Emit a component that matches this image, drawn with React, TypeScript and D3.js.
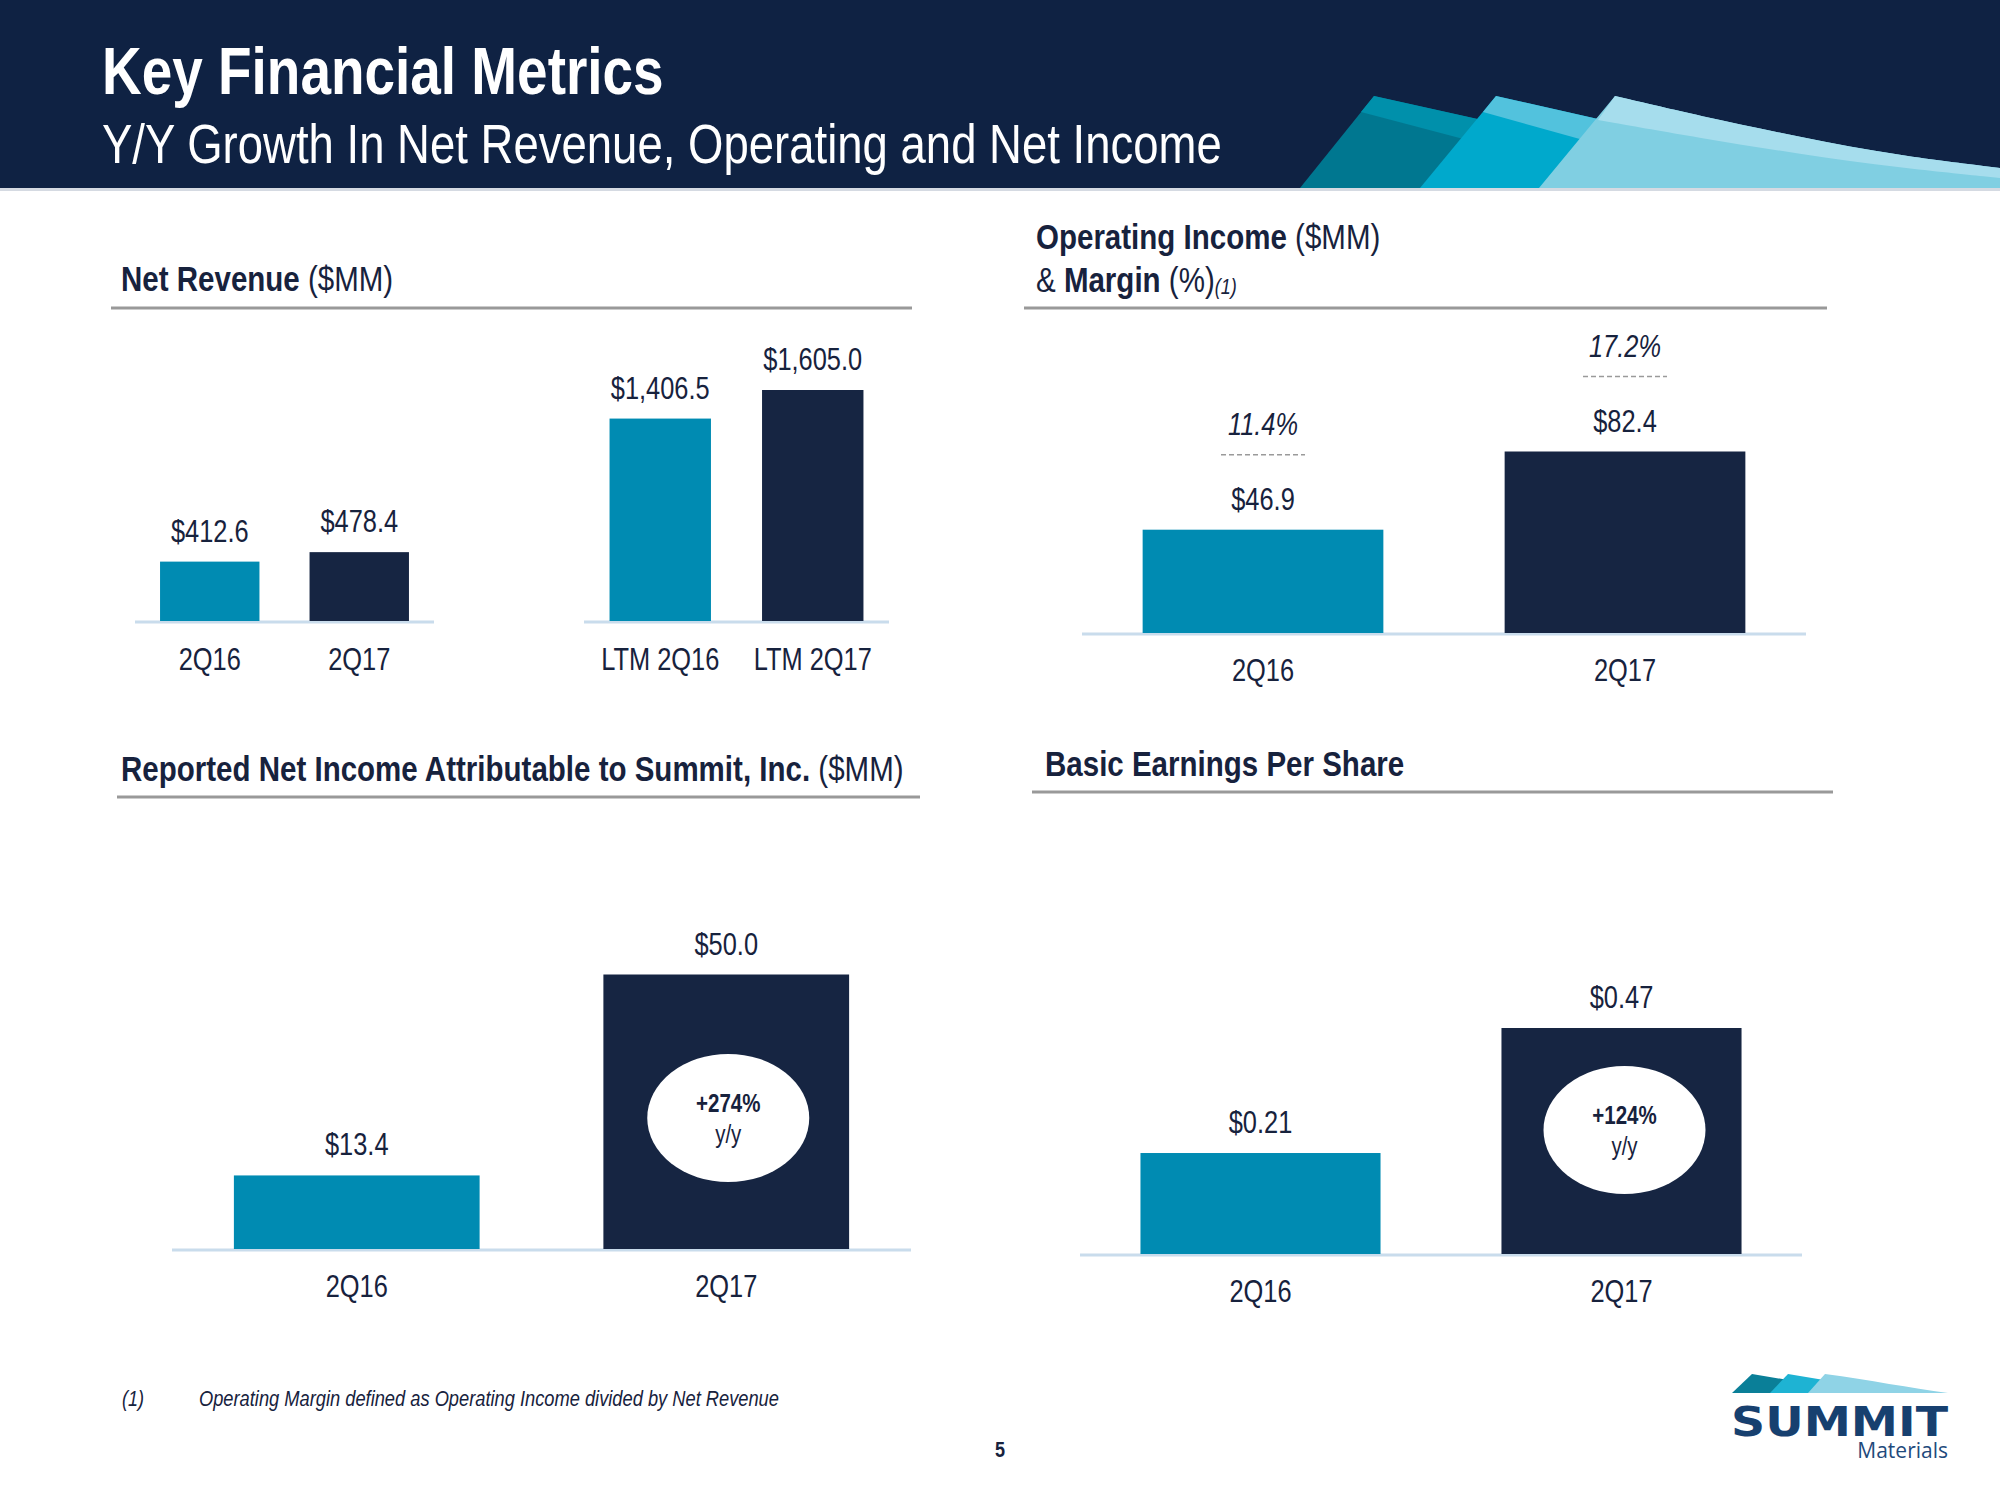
import React from "react";
import * as d3 from "d3";

// ---- Data ----
const nrQuarterCats = ["2Q16", "2Q17"];
const nrQuarterVals = [412.6, 478.4];
const nrLtmCats = ["LTM 2Q16", "LTM 2Q17"];
const nrLtmVals = [1406.5, 1605.0];
const nrLabels = ["$412.6", "$478.4", "$1,406.5", "$1,605.0"];

const oiCats = ["2Q16", "2Q17"];
const oiVals = [46.9, 82.4];
const oiLabels = ["$46.9", "$82.4"];
const oiMargins = ["11.4%", "17.2%"];

const niCats = ["2Q16", "2Q17"];
const niVals = [13.4, 50.0];
const niLabels = ["$13.4", "$50.0"];
const niGrowth = "+274%";

const epsCats = ["2Q16", "2Q17"];
const epsVals = [0.21, 0.47];
const epsLabels = ["$0.21", "$0.47"];
const epsGrowth = "+124%";

const barColors = ["#008bb2", "#162542"];

const FONT = "'Liberation Sans', Arial, sans-serif";
const TXT = "#17223d";
const NARROW = 0.82;

// Text drawn in a horizontally condensed form (Arial Narrow look)
function NText({ x, y, children, ...rest }: any) {
  return (
    <text transform={`translate(${x},${y}) scale(${NARROW},1)`} x={0} y={0} fontFamily={FONT} {...rest}>
      {children}
    </text>
  );
}

type BarSpec = {
  cats: string[];
  vals: number[];
  labels: string[];
  x0: number;
  x1: number;
  base: number;
  yMax: number;
  top: number;
  catY: number;
};

function BarGroup({ s, extra }: { s: BarSpec; extra?: (d: { x: number; w: number; y: number; i: number }) => React.ReactNode }) {
  const x = d3.scaleBand<string>().domain(s.cats).range([s.x0, s.x1]).paddingInner(0.335).paddingOuter(0.1675);
  const y = d3.scaleLinear().domain([0, s.yMax]).range([s.base, s.top]);
  return (
    <g>
      <line x1={s.x0} x2={s.x1} y1={s.base + 1} y2={s.base + 1} stroke="#c9dcec" strokeWidth={3} />
      {s.cats.map((c, i) => {
        const bx = x(c)!;
        const w = x.bandwidth();
        const by = y(s.vals[i]);
        return (
          <g key={c}>
            <rect x={bx} y={by} width={w} height={s.base - by} fill={barColors[i]} />
            <NText x={bx + w / 2} y={by - 20} textAnchor="middle" fontSize={31} fill={TXT}>
              {s.labels[i]}
            </NText>
            <NText x={bx + w / 2} y={s.catY} textAnchor="middle" fontSize={31} fill={TXT}>
              {c}
            </NText>
            {extra ? extra({ x: bx, w, y: by, i }) : null}
          </g>
        );
      })}
    </g>
  );
}

function Growth({ cx, cy, label }: { cx: number; cy: number; label: string }) {
  return (
    <g>
      <ellipse cx={cx} cy={cy} rx={81} ry={64} fill="#ffffff" />
      <NText x={cx} y={cy - 6} textAnchor="middle" fontSize={25} fontWeight="bold" fill={TXT}>
        {label}
      </NText>
      <NText x={cx} y={cy + 25} textAnchor="middle" fontSize={25} fill={TXT}>
        y/y
      </NText>
    </g>
  );
}

export default function App() {
  const nr1: BarSpec = { cats: nrQuarterCats, vals: nrQuarterVals, labels: nrLabels.slice(0, 2), x0: 135, x1: 434, base: 621, yMax: 1605, top: 390, catY: 670 };
  const nr2: BarSpec = { cats: nrLtmCats, vals: nrLtmVals, labels: nrLabels.slice(2), x0: 584, x1: 889, base: 621, yMax: 1605, top: 390, catY: 670 };
  const oi: BarSpec = { cats: oiCats, vals: oiVals, labels: oiLabels, x0: 1082, x1: 1806, base: 633, yMax: 82.4, top: 451.5, catY: 681 };
  const ni: BarSpec = { cats: niCats, vals: niVals, labels: niLabels, x0: 172, x1: 911, base: 1249, yMax: 50, top: 974.5, catY: 1297 };
  const eps: BarSpec = { cats: epsCats, vals: epsVals, labels: epsLabels, x0: 1080, x1: 1802, base: 1254, yMax: 0.47, top: 1028, catY: 1302 };

  // header decoration paths
  const line = d3.line().curve(d3.curveBasis);
  const cTop: [number, number][] = [[1615, 96], [1700, 116], [1800, 137], [1900, 156], [2000, 168]];
  const cStrip: [number, number][] = [[1598, 120], [1700, 138], [1800, 154], [1900, 168], [2000, 178]];

  return (
    <svg width={2000} height={1500} style={{ position: "absolute", left: 0, top: 0, display: "block" }} fontFamily={FONT}>
      <rect x={0} y={0} width={2000} height={1500} fill="#ffffff" />
      {/* header */}
      <rect x={0} y={0} width={2000} height={188} fill="#0f2243" />
      <rect x={0} y={188} width={2000} height={3} fill="#d5dae2" />
      {/* decoration A */}
      <path d="M1300,188 L1374,96 L1500,124 L1430,188 Z" fill="#007790" />
      <path d="M1361,112 L1374,96 L1500,124 L1490,146 Z" fill="#0090ab" />
      {/* decoration B */}
      <path d="M1420,188 L1496,96 L1620,124 L1545,188 Z" fill="#00a9cc" />
      <path d="M1483,112 L1496,96 L1620,124 L1605,146 Z" fill="#52c2dd" />
      {/* decoration C */}
      <path d={"M1539,188 L" + line(cTop)!.slice(1) + " L2000,188 Z"} fill="#80cfe2" />
      <path d={"M1598,120 L" + line(cTop)!.slice(1) + " L" + line(cStrip.slice().reverse())!.slice(1) + " Z"} fill="#a6dded" />
      <NText x={102} y={94} fontSize={67} fontWeight="bold" fill="#ffffff">
        Key Financial Metrics
      </NText>
      <NText x={102} y={163} fontSize={55.5} fill="#ffffff">
        Y/Y Growth In Net Revenue, Operating and Net Income
      </NText>

      {/* Net Revenue */}
      <NText x={121} y={291} fontSize={36} fill={TXT}>
        <tspan fontWeight="bold">Net Revenue </tspan>
        <tspan>($MM)</tspan>
      </NText>
      <line x1={111} x2={912} y1={308} y2={308} stroke="#999999" strokeWidth={3} />
      <BarGroup s={nr1} />
      <BarGroup s={nr2} />

      {/* Operating Income */}
      <NText x={1036} y={249} fontSize={36} fill={TXT}>
        <tspan fontWeight="bold">Operating Income </tspan>
        <tspan>($MM)</tspan>
      </NText>
      <NText x={1036} y={292} fontSize={36} fill={TXT}>
        <tspan>&amp; </tspan>
        <tspan fontWeight="bold">Margin </tspan>
        <tspan>(%)</tspan>
        <tspan fontSize={22} fontStyle="italic" dy={2}>(1)</tspan>
      </NText>
      <line x1={1024} x2={1827} y1={308} y2={308} stroke="#999999" strokeWidth={3} />
      <BarGroup
        s={oi}
        extra={({ x, w, y, i }) => (
          <g>
            <NText x={x + w / 2} y={y - 95} textAnchor="middle" fontSize={31} fontStyle="italic" fill={TXT}>
              {oiMargins[i]}
            </NText>
            <line x1={x + w / 2 - 42} x2={x + w / 2 + 42} y1={y - 75} y2={y - 75} stroke="#9a9a9a" strokeWidth={1.5} strokeDasharray="5,3" />
          </g>
        )}
      />

      {/* Net Income */}
      <NText x={121} y={781} fontSize={36} fill={TXT}>
        <tspan fontWeight="bold">Reported Net Income Attributable to Summit, Inc. </tspan>
        <tspan>($MM)</tspan>
      </NText>
      <line x1={117} x2={920} y1={797} y2={797} stroke="#999999" strokeWidth={3} />
      <BarGroup s={ni} extra={({ x, w, i }) => (i === 1 ? <Growth cx={x + w / 2 + 2} cy={1118} label={niGrowth} /> : null)} />

      {/* EPS */}
      <NText x={1045} y={776} fontSize={36} fontWeight="bold" fill={TXT}>
        Basic Earnings Per Share
      </NText>
      <line x1={1032} x2={1833} y1={792} y2={792} stroke="#999999" strokeWidth={3} />
      <BarGroup s={eps} extra={({ x, w, i }) => (i === 1 ? <Growth cx={x + w / 2 + 3} cy={1130} label={epsGrowth} /> : null)} />

      {/* footnote */}
      <NText x={122} y={1406} fontSize={22} fontStyle="italic" fill={TXT}>
        (1)
      </NText>
      <NText x={199} y={1406} fontSize={22.3} fontStyle="italic" fill={TXT}>
        Operating Margin defined as Operating Income divided by Net Revenue
      </NText>
      <NText x={1000} y={1457} fontSize={22} fontWeight="bold" textAnchor="middle" fill={TXT}>
        5
      </NText>

      {/* logo */}
      <path d="M1732,1393 L1752,1374 L1800,1382 L1786,1393 Z" fill="#0a7f98" />
      <path d="M1770,1393 L1788,1374 L1836,1382 L1822,1393 Z" fill="#1eb3d3" />
      <path d="M1808,1393 L1825,1374 C1870,1380 1910,1388 1948,1393 Z" fill="#8fd3e6" />
      <text x={1731} y={1436} fontSize={40} fontWeight="900" fill="#17406f" fontFamily="'DejaVu Sans', sans-serif" textLength={217} lengthAdjust="spacingAndGlyphs">
        SUMMIT
      </text>
      <text x={1948} y={1458} fontSize={21} textAnchor="end" fill="#1f4a7c" fontFamily="'Open Sans', sans-serif">
        Materials
      </text>
    </svg>
  );
}
